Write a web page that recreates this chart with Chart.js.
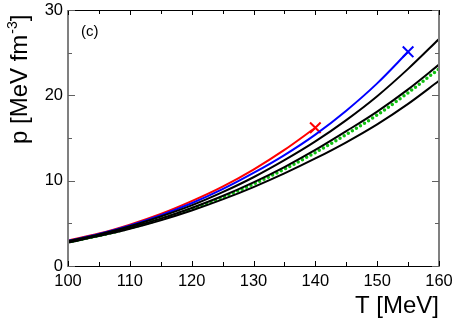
<!DOCTYPE html>
<html>
<head>
<meta charset="utf-8">
<script src="https://cdn.jsdelivr.net/npm/chart.js@4/dist/chart.umd.min.js"></script>
<style>
html,body{margin:0;padding:0;background:#fff;}
canvas{display:block;}
</style>
</head>
<body>
<canvas id="c" width="454" height="321"></canvas>
<script>
// Temperatures (MeV)
const T_red   = [100,105,110,115,120,125,130,135,140];
const T_blue  = [100,105,110,115,120,125,130,135,140,145,150,155];
const T_full  = [100,105,110,115,120,125,130,135,140,145,150,155,160];
// Pressures (MeV fm^-3)
const p_red    = [3.0,3.8,4.85,6.1,7.6,9.3,11.3,13.6,16.2];
const p_blue   = [2.95,3.75,4.75,5.95,7.35,9.0,10.9,13.0,15.4,18.2,21.4,25.1];
const p_black1 = [2.9,3.7,4.65,5.8,7.1,8.65,10.4,12.4,14.6,17.1,19.9,23.1,26.6];
const p_black2 = [2.85,3.6,4.5,5.55,6.8,8.2,9.8,11.6,13.6,15.8,18.1,20.7,23.6];
const p_green  = [2.8,3.55,4.45,5.5,6.7,8.05,9.6,11.35,13.3,15.4,17.7,20.3,23.1];
const p_black3 = [2.75,3.5,4.35,5.35,6.5,7.8,9.25,10.85,12.6,14.5,16.6,19.0,21.7];

const xTicks = [100,110,120,130,140,150,160];
const yTicks = [0,10,20,30];

const FONT = "'Liberation Sans', Arial, Helvetica, sans-serif";
const pts = (xs, ys) => xs.map((x,i)=>({x:x, y:ys[i]}));

function lineDS(xs, ys, color, extra){
  return Object.assign({
    data: pts(xs, ys),
    borderColor: color,
    backgroundColor: color,
    borderWidth: 2,
    pointRadius: 0,
    cubicInterpolationMode: 'monotone',
    fill: false
  }, extra||{});
}
const endCross = (n) => ({
  pointStyle: 'crossRot',
  pointRadius: ctx => ctx.dataIndex === n-1 ? 7.5 : 0,
  pointBorderWidth: 2,
  pointHoverRadius: 0
});

const decor = {
  id: 'decor',
  afterDraw(chart){
    const ctx = chart.ctx;
    const a = chart.chartArea;
    const xs = chart.scales.x, ys = chart.scales.y;
    ctx.save();
    // frame
    ctx.lineWidth = 1;
    ctx.strokeStyle = '#000';
    ctx.beginPath();
    ctx.moveTo(a.left, a.top+0.5); ctx.lineTo(a.right, a.top+0.5);
    ctx.moveTo(a.left, a.bottom+0.5); ctx.lineTo(a.right, a.bottom+0.5);
    ctx.stroke();
    ctx.strokeStyle = '#808080';
    ctx.lineWidth = 2;
    ctx.beginPath();
    ctx.moveTo(a.left, a.top); ctx.lineTo(a.left, a.bottom+1);
    ctx.moveTo(a.right, a.top); ctx.lineTo(a.right, a.bottom+1);
    ctx.stroke();
    // x ticks (inward, top and bottom)
    ctx.strokeStyle = '#000';
    ctx.lineWidth = 1;
    ctx.beginPath();
    xs.ticks.forEach(t => {
      const px = Math.round(xs.getPixelForValue(t.value)) + 0.5;
      const len = (t.value % 10 === 0) ? 5 : 4;
      ctx.moveTo(px, a.bottom); ctx.lineTo(px, a.bottom - len);
      ctx.moveTo(px, a.top); ctx.lineTo(px, a.top + len);
    });
    ctx.stroke();
    // y ticks (inward, left and right)
    ctx.strokeStyle = '#606060';
    ctx.beginPath();
    ys.ticks.forEach(t => {
      const py = Math.round(ys.getPixelForValue(t.value)) + 0.5;
      const len = (t.value % 10 === 0) ? 7 : 4;
      ctx.moveTo(a.left, py); ctx.lineTo(a.left + len, py);
      ctx.moveTo(a.right, py); ctx.lineTo(a.right - len, py);
    });
    ctx.stroke();
    // panel label
    ctx.fillStyle = '#000';
    ctx.font = '15px ' + FONT;
    ctx.textBaseline = 'alphabetic';
    ctx.textAlign = 'left';
    ctx.fillText('(c)', 81, 36);
    // x title
    ctx.font = '24px ' + FONT;
    ctx.textAlign = 'right';
    ctx.fillText('T [MeV]', a.right, 313);
    // y title rotated with superscript
    ctx.translate(27, 144);
    ctx.rotate(-Math.PI/2);
    ctx.textAlign = 'left';
    ctx.font = '24px ' + FONT;
    const s1 = 'p [MeV fm';
    ctx.fillText(s1, 0, 0);
    let w = ctx.measureText(s1).width;
    ctx.font = '14px ' + FONT;
    const s2 = '-3';
    ctx.fillText(s2, w + 1, -10);
    w += ctx.measureText(s2).width + 1;
    ctx.font = '24px ' + FONT;
    ctx.fillText(']', w, 0);
    ctx.restore();
  }
};

new Chart(document.getElementById('c'), {
  type: 'line',
  data: {
    datasets: [
      lineDS(T_full, p_black3, '#000000'),
      lineDS(T_full, p_black2, '#000000'),
      lineDS(T_full, p_black1, '#000000'),
      lineDS(T_full, p_green, '#10c010', {borderWidth: 3.5, borderDash: [0, 4.8], borderCapStyle: 'round'}),
      lineDS(T_blue, p_blue, '#0000ff', endCross(T_blue.length)),
      lineDS(T_red, p_red, '#ff0000', endCross(T_red.length))
    ]
  },
  options: {
    responsive: false,
    animation: false,
    devicePixelRatio: 1,
    layout: { padding: { top: 10, right: 15, left: 0, bottom: 0 } },
    plugins: { legend: { display: false }, tooltip: { enabled: false } },
    scales: {
      x: {
        type: 'linear', min: 100, max: 160,
        afterBuildTicks: s => { s.ticks = [100,105,110,115,120,125,130,135,140,145,150,155,160].map(v=>({value:v})); },
        afterFit: s => { s.height = 55; s.paddingLeft = 0; s.paddingRight = 0; },
        grid: { display: false, drawTicks: false },
        border: { display: false },
        ticks: {
          padding: 6, color: '#000', maxRotation: 0, autoSkip: false,
          font: { family: FONT, size: 16.5 },
          callback: v => xTicks.includes(v) ? String(v) : ''
        }
      },
      y: {
        type: 'linear', min: 0, max: 30,
        afterBuildTicks: s => { s.ticks = [0,5,10,15,20,25,30].map(v=>({value:v})); },
        afterFit: s => { s.width = 68; s.paddingTop = 0; s.paddingBottom = 0; },
        grid: { display: false, drawTicks: false },
        border: { display: false },
        ticks: {
          padding: 5, color: '#000', autoSkip: false,
          font: { family: FONT, size: 16.5 },
          callback: v => yTicks.includes(v) ? String(v) : ''
        }
      }
    }
  },
  plugins: [decor]
});
</script>
</body>
</html>
